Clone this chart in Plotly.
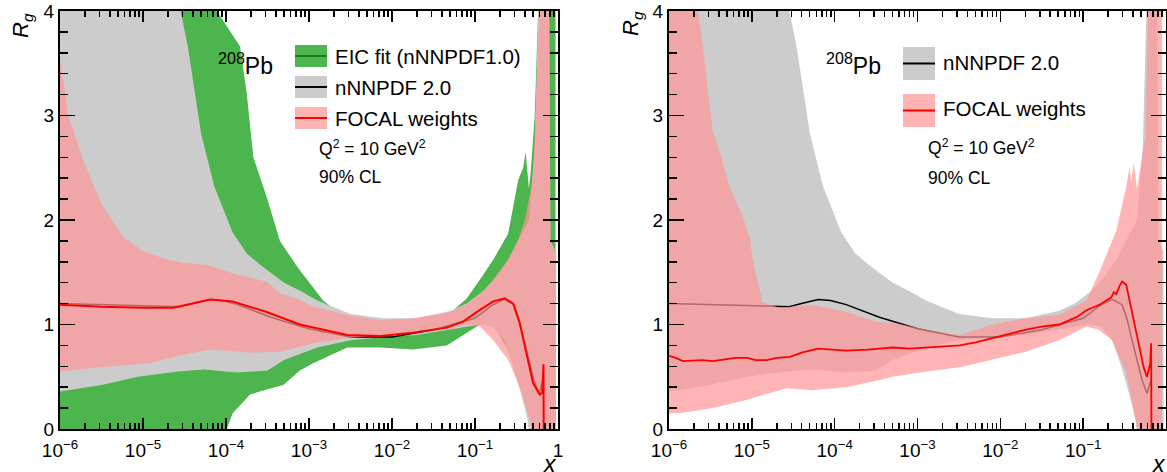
import plotly.graph_objects as go

W, H = 1167, 472
FONT = "Liberation Sans, Arial, Helvetica, sans-serif"

# ---------------- data (log10 x, R_g) ----------------
# nNNPDF 2.0 band (same in both panels)
nn20_up_logx = [-6, -5, -4.7, -4.55, -4.46, -4.30, -4.14, -3.92, -3.75, -3.6, -3.3, -3.1, -2.9,
                -2.5, -2.1, -1.7, -1.3, -1.1, -0.9, -0.75, -0.6, -0.45, -0.35, -0.28, -0.22, -0.11, -0.09, -0.03]
nn20_up = [8, 6, 4.6, 4.0, 3.66, 2.83, 2.32, 1.88, 1.68, 1.58, 1.40, 1.32, 1.23,
           1.10, 1.06, 1.06, 1.13, 1.20, 1.32, 1.45, 1.62, 1.85, 2.0, 2.7, 4.5, 4.5, 1.8, 1.7]
nn20_lo_logx = [-6, -5.5, -5.06, -4.58, -4.27, -3.86, -3.5, -3.3, -2.9, -2.5, -2.1, -1.7, -1.3,
                -0.94, -0.78, -0.65, -0.54, -0.45, -0.37, -0.3, -0.03]
nn20_lo = [0.36, 0.42, 0.50, 0.55, 0.57, 0.54, 0.56, 0.66, 0.78, 0.85, 0.88, 0.90, 0.95,
           1.00, 0.98, 0.85, 0.60, 0.35, 0.10, -0.3, -0.5]
nn20_cv_logx = [-6, -5.5, -5, -4.7, -4.55, -4.4, -4.2, -4.05, -3.86, -3.46, -3.0, -2.5, -2.0,
                -1.5, -1.0, -0.8, -0.65, -0.53, -0.47, -0.41, -0.35, -0.29, -0.23, -0.18]
nn20_cv = [1.20, 1.19, 1.18, 1.17, 1.17, 1.20, 1.24, 1.23, 1.19, 1.07, 0.96, 0.88, 0.88,
           0.95, 1.06, 1.18, 1.24, 1.19, 1.05, 0.85, 0.65, 0.47, 0.34, 0.47]

# EIC fit (nNNPDF1.0) band, left panel
eic_up_logx = [-6, -4.5, -4.11, -3.83, -3.75, -3.67, -3.51, -3.35, -3.14, -2.95, -2.83, -2.7,
               -2.5, -2.1, -1.7, -1.3, -1.1, -0.94, -0.78, -0.6, -0.48, -0.42, -0.39, -0.35,
               -0.33, -0.28, -0.22, -0.03]
eic_up = [12, 8, 4.0, 3.66, 3.21, 2.60, 2.22, 1.80, 1.55, 1.36, 1.23, 1.15,
          1.08, 1.04, 1.04, 1.11, 1.25, 1.43, 1.62, 1.87, 2.38, 2.5, 2.65, 2.3,
          2.45, 3.0, 4.5, 4.5]
eic_lo_logx = [-6, -4.2, -3.99, -3.92, -3.71, -3.5, -3.31, -3.11, -2.95, -2.54, -2.14, -1.75,
               -1.34, -1.1, -0.94, -0.78, -0.6, -0.45, -0.35, -0.03]
eic_lo = [-0.5, -0.2, 0.0, 0.15, 0.33, 0.38, 0.42, 0.56, 0.63, 0.78, 0.78, 0.76,
          0.80, 0.92, 1.0, 1.0, 0.75, 0.40, 0.12, -0.5]

# FOCAL weights, left panel
focL_up_logx = [-6, -5.9, -5.72, -5.5, -5.24, -5.0, -4.7, -4.52, -4.23, -3.92, -3.51, -3.35,
                -3.11, -2.95, -2.54, -2.14, -1.75, -1.34, -1.1, -0.85, -0.6, -0.48, -0.4,
                -0.3, -0.2, -0.11, -0.09, -0.03]
focL_up = [3.55, 3.0, 2.57, 2.15, 1.84, 1.70, 1.62, 1.59, 1.57, 1.49, 1.41, 1.30,
           1.24, 1.17, 1.09, 1.04, 1.06, 1.11, 1.19, 1.36, 1.62, 1.81, 2.0,
           2.4, 4.5, 4.5, 1.8, 1.7]
focL_lo_logx = [-6, -5.52, -4.92, -4.52, -4.19, -3.71, -3.35, -2.95, -2.54, -2.14, -1.75,
                -1.34, -1.1, -0.94, -0.78, -0.6, -0.46, -0.34, -0.25, -0.03]
focL_lo = [0.55, 0.59, 0.63, 0.71, 0.76, 0.73, 0.74, 0.82, 0.87, 0.90, 0.92,
           0.95, 1.00, 0.98, 0.85, 0.66, 0.40, 0.09, -0.5, -0.5]
focL_cv_logx = [-6, -5.5, -5, -4.64, -4.47, -4.19, -3.92, -3.51, -3.11, -2.95, -2.54, -2.14,
                -1.75, -1.34, -1.14, -0.94, -0.78, -0.64, -0.54, -0.46, -0.37, -0.30, -0.22,
                -0.19, -0.175, -0.172]
focL_cv = [1.19, 1.17, 1.16, 1.16, 1.19, 1.24, 1.22, 1.12, 1.00, 0.97, 0.90, 0.89,
           0.92, 0.97, 1.03, 1.14, 1.22, 1.25, 1.20, 1.01, 0.69, 0.44, 0.33,
           0.35, 0.62, -0.1]

# FOCAL weights, right panel
focR_up_logx = [-6, -5.65, -5.59, -5.47, -5.42, -5.27, -5.11, -5.02, -4.99, -4.87, -4.66, -4.27,
                -3.86, -3.46, -3.3, -2.89, -2.49, -2.1, -1.69, -1.29, -0.96, -0.81, -0.65,
                -0.6, -0.48, -0.44, -0.42, -0.39, -0.35, -0.25, -0.2, -0.05]
focR_up = [6, 4.0, 3.66, 2.83, 2.74, 2.32, 2.03, 1.81, 1.62, 1.21, 1.16, 1.19,
           1.12, 1.02, 1.02, 0.95, 0.90, 1.00, 1.06, 1.09, 1.23, 1.49, 1.81,
           1.90, 2.32, 2.50, 2.36, 2.55, 2.3, 2.8, 4.5, 4.5]
focR_lo_logx = [-6, -5.88, -5.47, -5.06, -4.58, -4.27, -3.86, -3.46, -3.3, -2.89, -2.49, -2.1,
                -1.69, -1.29, -0.96, -0.81, -0.65, -0.48, -0.36, -0.25, -0.05]
focR_lo = [0.15, 0.15, 0.20, 0.28, 0.39, 0.37, 0.40, 0.47, 0.50, 0.55, 0.59, 0.66,
           0.74, 0.85, 0.98, 0.95, 0.85, 0.54, 0.06, -0.5, -0.5]
focR_cv_logx = [-6, -5.92, -5.83, -5.6, -5.47, -5.3, -5.2, -5.06, -4.95, -4.82, -4.7, -4.54,
                -4.4, -4.2, -4.0, -3.86, -3.6, -3.46, -3.3, -3.1, -2.89, -2.7, -2.49,
                -2.3, -2.1, -1.9, -1.69, -1.5, -1.29, -1.08, -0.95, -0.89, -0.8, -0.72,
                -0.66, -0.63, -0.6, -0.56, -0.53, -0.48, -0.41, -0.33,
                -0.27, -0.23, -0.19, -0.18, -0.175]
focR_cv = [0.70, 0.68, 0.65, 0.66, 0.65, 0.67, 0.68, 0.68, 0.66, 0.66, 0.68, 0.69,
           0.73, 0.77, 0.76, 0.75, 0.76, 0.77, 0.78, 0.77, 0.78, 0.79, 0.80,
           0.83, 0.87, 0.91, 0.95, 0.98, 1.00, 1.07, 1.14, 1.16, 1.19, 1.23,
           1.26, 1.31, 1.29, 1.37, 1.41, 1.38, 1.11, 0.79,
           0.59, 0.50, 0.63, 0.82, -0.1]

# axis labels
x_tick_logs = [-6, -5, -4, -3, -2, -1, 0]
x_tick_text = ["10<sup>\u22126</sup>", "10<sup>\u22125</sup>", "10<sup>\u22124</sup>",
               "10<sup>\u22123</sup>", "10<sup>\u22122</sup>", "10<sup>\u22121</sup>", "1"]
y_ticks = [0, 1, 2, 3, 4]

# ---------------- styles ----------------
GREEN = "#4db54d"
GRAY = "#cccccc"
PINK = "rgba(255,150,150,0.70)"
RED = "#ff0000"


def xs(lx):
    return [10 ** v for v in lx]


def band(ulx, u, llx, lo):
    return xs(ulx) + xs(llx)[::-1], list(u) + list(lo)[::-1]


fig = go.Figure()


def add_band(ulx, u, llx, lo, color, xa, ya):
    bx, by = band(ulx, u, llx, lo)
    fig.add_trace(go.Scatter(x=bx, y=by, mode="lines", fill="toself", fillcolor=color,
                             line=dict(width=0, color=color), xaxis=xa, yaxis=ya,
                             hoverinfo="skip", showlegend=False))


def add_line(lx, v, color, width, xa, ya):
    fig.add_trace(go.Scatter(x=xs(lx), y=v, mode="lines", line=dict(color=color, width=width),
                             xaxis=xa, yaxis=ya, hoverinfo="skip", showlegend=False))


# left panel
add_band(eic_up_logx, eic_up, eic_lo_logx, eic_lo, GREEN, "x", "y")
add_band(nn20_up_logx, nn20_up, nn20_lo_logx, nn20_lo, GRAY, "x", "y")
add_line(nn20_cv_logx, nn20_cv, "black", 1.5, "x", "y")
add_band(focL_up_logx, focL_up, focL_lo_logx, focL_lo, PINK, "x", "y")
add_line(focL_cv_logx, focL_cv, RED, 2, "x", "y")

# right panel
add_band(nn20_up_logx, nn20_up, nn20_lo_logx, nn20_lo, GRAY, "x2", "y2")
add_line(nn20_cv_logx, nn20_cv, "black", 1.5, "x2", "y2")
add_band(focR_up_logx, focR_up, focR_lo_logx, focR_lo, PINK, "x2", "y2")
add_line(focR_cv_logx, focR_cv, RED, 1.8, "x2", "y2")

# ---------------- axes ----------------
minor_x = [k * 10 ** e for e in range(-6, 0) for k in range(2, 10)]
minor_y = [i * 0.2 for i in range(21) if i % 5 != 0]


def px(x):
    return x / W


def py(y):
    return 1 - y / H


def xaxis_cfg(x0, x1, anchor):
    return dict(type="log", range=[-6, 0], domain=[px(x0), px(x1)], anchor=anchor,
                automargin=False,
                showline=True, linecolor="black", linewidth=2, mirror="allticks",
                ticks="inside", ticklen=11, tickwidth=1.5, tickcolor="black",
                tickmode="array", tickvals=xs(x_tick_logs), ticktext=x_tick_text,
                ticklabelstandoff=3,
                minor=dict(ticks="inside", ticklen=6, tickwidth=1.5, tickcolor="black",
                           tickmode="array", tickvals=minor_x, showgrid=False),
                showgrid=False, zeroline=False,
                tickfont=dict(family=FONT, size=19, color="black"))


def yaxis_cfg(anchor):
    return dict(range=[0, 4], domain=[py(429), py(11)], anchor=anchor,
                automargin=False,
                showline=True, linecolor="black", linewidth=2, mirror="allticks",
                ticks="inside", ticklen=15, tickwidth=1.5, tickcolor="black",
                tickmode="array", tickvals=y_ticks, ticktext=[str(t) for t in y_ticks],
                minor=dict(ticks="inside", ticklen=8, tickwidth=1.5, tickcolor="black",
                           tickmode="array", tickvals=minor_y, showgrid=False),
                showgrid=False, zeroline=False,
                tickfont=dict(family=FONT, size=19, color="black"))


shapes = []
annotations = []


def text(x, y, s, size, xanchor="left", italic=False, angle=0):
    annotations.append(dict(x=px(x), y=py(y), xref="paper", yref="paper", text=s,
                            showarrow=False, xanchor=xanchor, yanchor="middle",
                            textangle=angle,
                            font=dict(family=FONT, size=size, color="black",
                                      style="italic" if italic else "normal")))


def legend_box(x0, x1, y0, y1, fill, linecolor):
    shapes.append(dict(type="rect", xref="paper", yref="paper", x0=px(x0), x1=px(x1),
                       y0=py(y1), y1=py(y0), fillcolor=fill, line=dict(width=0), layer="above"))
    ym = (y0 + y1) / 2
    shapes.append(dict(type="line", xref="paper", yref="paper", x0=px(x0), x1=px(x1),
                       y0=py(ym), y1=py(ym), line=dict(color=linecolor, width=2), layer="above"))


# left legend
legend_box(295, 327, 45, 67, GREEN, "#1c7a1c")
legend_box(295, 327, 76, 98, GRAY, "black")
legend_box(295, 327, 107, 129, "#ffb4b4", RED)
text(333, 56, "EIC fit (nNNPDF1.0)", 20.5)
text(333, 87, "nNNPDF 2.0", 20.5)
text(333, 118, "FOCAL weights", 20.5)
text(317, 148, "Q<sup>2</sup> = 10 GeV<sup>2</sup>", 17.5)
text(317, 177, "90% CL", 17.5)
text(216, 64, "<sup>208</sup>Pb", 23)

# right legend
legend_box(903, 935, 47, 80, GRAY, "black")
legend_box(903, 935, 94, 127, "#ffb4b4", RED)
text(941, 63, "nNNPDF 2.0", 20.5)
text(941, 109, "FOCAL weights", 20.5)
text(926, 147, "Q<sup>2</sup> = 10 GeV<sup>2</sup>", 17.5)
text(926, 178, "90% CL", 17.5)
text(824, 64, "<sup>208</sup>Pb", 23)

# axis titles
text(22, 26, "<i>R<sub>g</sub></i>", 22, xanchor="center", angle=-90)
text(632, 24, "<i>R<sub>g</sub></i>", 22, xanchor="center", angle=-90)
text(550, 464, "<i>x</i>", 23, xanchor="center")
text(1159, 464, "<i>x</i>", 23, xanchor="center")

fig.update_layout(
    width=W, height=H,
    margin=dict(l=0, r=0, t=0, b=0, pad=0, autoexpand=False),
    paper_bgcolor="white", plot_bgcolor="white",
    showlegend=False, hovermode=False,
    xaxis=xaxis_cfg(60, 558, "y"),
    yaxis=yaxis_cfg("x"),
    xaxis2=xaxis_cfg(669, 1166, "y2"),
    yaxis2=yaxis_cfg("x2"),
    shapes=shapes,
    annotations=annotations,
    font=dict(family=FONT, color="black"),
)

fig.write_html("out.html",
               config={"displayModeBar": False, "staticPlot": True},
               post_script="document.body.style.margin='0px';"
                           "document.body.style.overflow='hidden';")
